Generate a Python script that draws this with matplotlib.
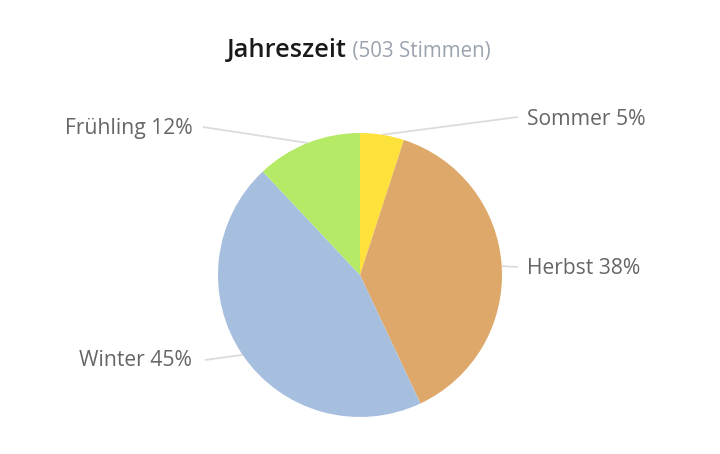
import numpy as np
import matplotlib
matplotlib.use("Agg")
import matplotlib.pyplot as plt

categories = ["Sommer", "Herbst", "Winter", "Frühling"]
values = [5, 38, 45, 12]
colors = ["#FDE23C", "#DEA86A", "#A7BFDE", "#B4EA66"]
title_main = "Jahreszeit"
title_sub = "(503 Stimmen)"

W, H = 720, 454
fig = plt.figure(figsize=(W / 100, H / 100), dpi=100)
ax = fig.add_axes([0, 0, 1, 1])
ax.set_xlim(0, W)
ax.set_ylim(0, H)
ax.set_aspect("equal")
ax.axis("off")

cx, cy, r = 360, H - 275, 142
ax.pie(values, colors=colors, startangle=90, counterclock=False,
       center=(cx, cy), radius=r, frame=True,
       wedgeprops=dict(linewidth=0))
ax.set_xlim(0, W)
ax.set_ylim(0, H)
ax.axis("off")

# label anchor points (pixel coords, y from top) and alignment
anchors = {
    "Sommer": ((518, 117), (527, 119.5), "left"),
    "Herbst": ((518, 267), (527, 268.5), "left"),
    "Winter": ((205, 360), (192, 360.5), "right"),
    "Frühling": ((203, 127), (193, 128.5), "right"),
}

total = sum(values)
cum = 0
for cat, v in zip(categories, values):
    mid = (cum + v / 2) / total * 2 * np.pi
    cum += v
    ex = cx + r * np.sin(mid)
    ey = cy + r * np.cos(mid)
    (lx, ly), (tx, ty), ha = anchors[cat]
    ly = H - ly
    ty = H - ty
    ax.plot([ex, lx], [ey, ly], color="#DCDCDC", lw=1.3, zorder=0,
            solid_capstyle="butt")
    ax.text(tx, ty, f"{cat} {v}%", ha=ha, va="center", fontsize=15.2,
            family="Open Sans", color="#666666")

# title
t1 = ax.text(0, 0, title_main, fontsize=18.3, family="Open Sans",
             fontweight="semibold", color="#1a1a1a", va="baseline", ha="left")
t2 = ax.text(0, 0, " " + title_sub, fontsize=14.8, family="Open Sans",
             color="#9AA3AE", va="baseline", ha="left")
fig.canvas.draw()
rend = fig.canvas.get_renderer()
w1 = t1.get_window_extent(rend).width
w2 = t2.get_window_extent(rend).width
x0 = 359 - (w1 + w2) / 2
t1.set_position((x0, H - 57))
t2.set_position((x0 + w1, H - 57))

fig.savefig("out.png", dpi=100, facecolor="white")
